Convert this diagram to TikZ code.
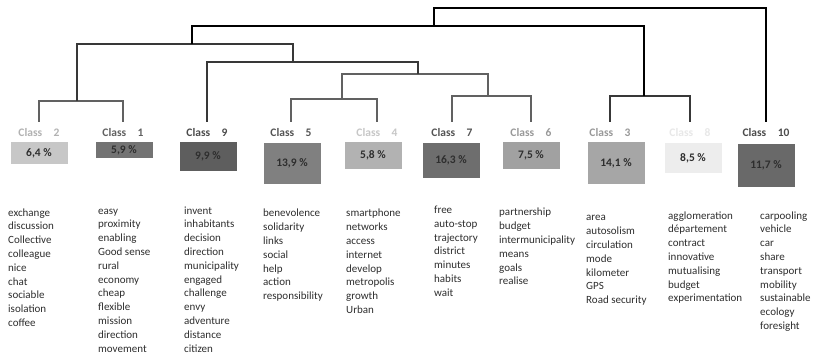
\documentclass[tikz,border=0pt]{standalone}
\usepackage{fontspec}
\setmainfont{Carlito}
\usetikzlibrary{positioning}

\tikzset{
  dlow/.style={draw=black!62, line width=1.3pt},
  dmid/.style={draw=black!78, line width=1.6pt},
  dtop/.style={draw=black, line width=2.2pt},
  classlab/.style={font=\fontsize{11.5}{13}\selectfont\bfseries, inner xsep=1pt, inner ysep=7pt},
  pctbox/.style={minimum width=57pt, inner sep=0pt, text=black!82,
    font=\fontsize{11.5}{13}\selectfont\bfseries},
  words/.style={anchor=north west, align=left, inner sep=0pt, text=black!82,
    font=\fontsize{11}{13.8}\selectfont}
}

\begin{document}
\begin{tikzpicture}[x=1pt,y=-1pt]
\fill[white] (0,0) rectangle (816,358);
\useasboundingbox (0,0) rectangle (816,358);

% classes and their shares
\foreach \n/\lx/\lc/\bx/\by/\bh/\bc/\p in {
  2/39/black!30/39/142/22/black!22/{6,4},
  1/123/black!62/124/142/16/black!55/{5,9},
  9/207/black!70/208/142/29/black!63/{9,9},
  5/291/black!67/292/143/41/black!50/{13,9},
  4/377/black!22/373/142/27/black!30/{5,8},
  7/452/black!67/451/143/35/black!57/{16,3},
  6/531/black!40/531/142/27/black!37/{7,5},
  3/610/black!40/616/142/42/black!35/{14,1},
  8/690/black!9/693/143/30/black!7/{8,5},
  10/766/black!70/766/144/43/black!59/{11,7}} {
  \node[classlab, text=\lc] (lab\n) at (\lx,133) {Class\quad\n};
  \node[pctbox, fill=\bc, minimum height=\bh pt, anchor=north] (box\n) at (\bx,\by) {\p{} \%};
}

% merge points of the tree
\coordinate (m21) at (77,101);
\coordinate (m54) at (342,99);
\coordinate (m76) at (488,96);
\coordinate (m38) at (644,96);
\coordinate (m5476) at (418,74);
\coordinate (m9) at (293,62);
\coordinate (m12) at (192,44);
\coordinate (m3) at (434,26);
\coordinate (root) at (600,8);

\draw[dlow] (lab2.north) |- (m21) (lab1.north) |- (m21);
\draw[dlow] (lab5.north) |- (m54) (lab4.north) |- (m54);
\draw[dlow] (lab7.north) |- (m76) (lab6.north) |- (m76);
\draw[dlow] (m54) |- (m5476) (m76) |- (m5476);
\draw[dmid] (lab9.north) |- (m9) (m5476) |- (m9);
\draw[dmid] (lab3.north) |- (m38) (lab8.north) |- (m38);
\draw[dmid] (m21) |- (m12) (m9) |- (m12);
\draw[dtop] (m12) |- (m3) (m38) |- (m3);
\draw[dtop] (m3) |- (root) (lab10.north) |- (root);

% vocabulary of each class
\node[words] (w2) at (8,206.3) {\strut exchange\\discussion\\Collective\\colleague\\nice\\chat\\sociable\\isolation\\coffee};
\node[words] (w1) at (98,204.3) {\strut easy\\proximity\\enabling\\Good sense\\rural\\economy\\cheap\\flexible\\mission\\direction\\movement};
\node[words] (w9) at (184,204.3) {\strut invent\\inhabitants\\decision\\direction\\municipality\\engaged\\challenge\\envy\\adventure\\distance\\citizen};
\node[words] (w5) at (263,207) {\strut benevolence\\solidarity\\links\\social\\help\\action\\responsibility};
\node[words] (w4) at (346,207) {\strut smartphone\\networks\\access\\internet\\develop\\metropolis\\growth\\Urban};
\node[words] (w7) at (434,203.6) {\strut free\\auto-stop\\trajectory\\district\\minutes\\habits\\wait};
\node[words] (w6) at (499,206) {\strut partnership\\budget\\intermunicipality\\means\\goals\\realise};
\node[words] (w3) at (586,211) {\strut area\\autosolism\\circulation\\mode\\kilometer\\GPS\\Road security};
\node[words] (w8) at (668,209.3) {\strut agglomeration\\département\\contract\\innovative\\mutualising\\budget\\experimentation};
\node[words] (w10) at (760,209.3) {\strut carpooling\\vehicle\\car\\share\\transport\\mobility\\sustainable\\ecology\\foresight};
\end{tikzpicture}
\end{document}
